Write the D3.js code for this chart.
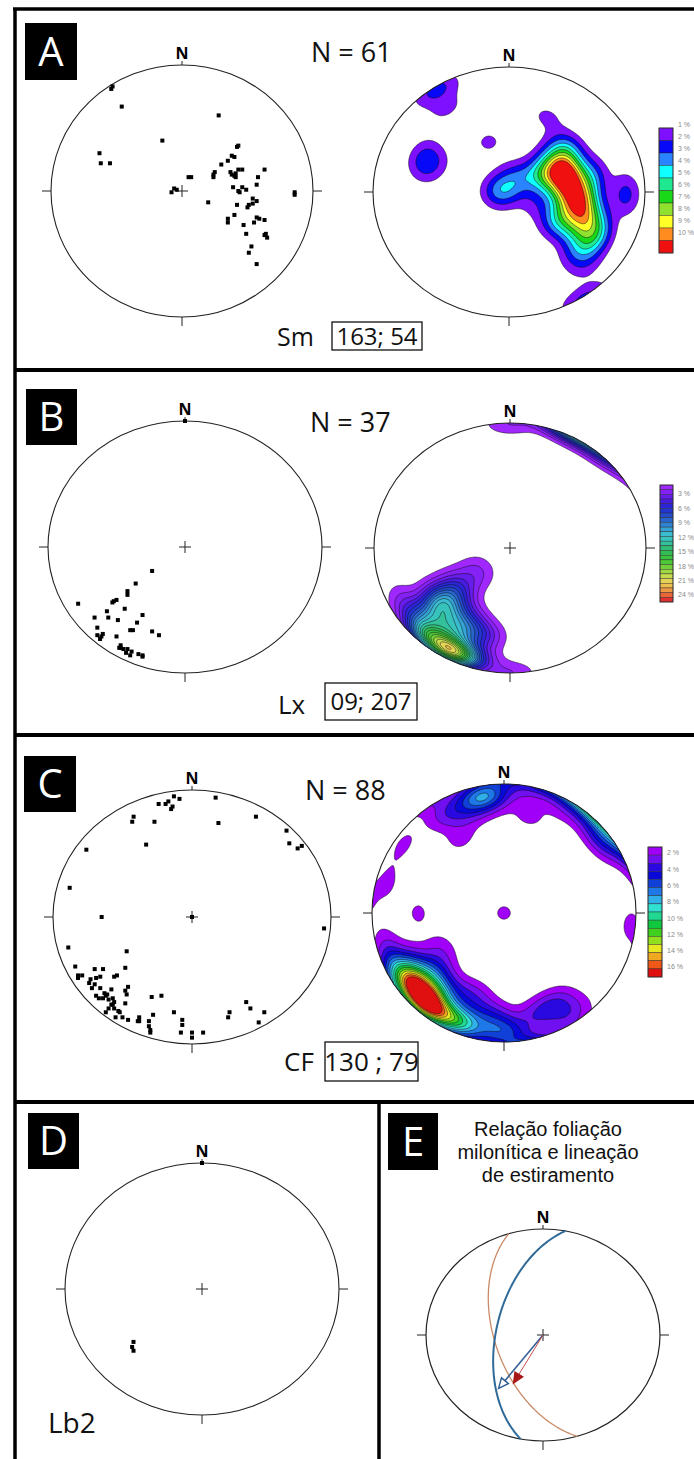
<!DOCTYPE html>
<html><head><meta charset="utf-8">
<script src="https://cdn.jsdelivr.net/npm/d3@7"></script>
<style>body{margin:0;background:#fff}svg{display:block}</style>
</head><body>
<svg id="fig" width="694" height="1459"></svg>
<script>
// ================= DATA =================
// Pole / line positions read off each equal-area net, in net units
// (percent of primitive radius: [east, north]).
const polesA = [[-54,81],[-53,83],[-46,67],[28,60],[-15,40],[-63,30],[-62,22],[-55,22],[42,35],[43,36],
  [40,27],[35,24],[30,21],[25,15],[24,11],[37,15],[41,14],[41,11],[46,17],[63,17],[58,11],[57,5],[39,3],
  [43,0],[46,3],[49,1],[44,-1],[5,11],[7,11],[-6,2],[-8,-1],[20,-9],[86,-1],[86,-3],[54,-6],[57,-8],
  [54,-10],[50,-13],[42,-11],[51,-11],[40,-19],[35,-22],[35,-25],[57,-21],[63,-23],[55,-25],[47,-27],
  [49,-34],[63,-35],[65,-37],[64,-34],[53,-44],[51,-49],[57,-58],[38,13],[43,17],[59,-22],[38,28],[-4,1],
  [24,13],[40,12]];
const linesB = [[0,100],[-24,-19],[-36,-29],[-42,-35],[-42,-38],[-50,-42],[-53,-44],[-78,-45],[-44,-49],
  [-57,-51],[-56,-56],[-66,-56],[-31,-54],[-49,-58],[-35,-60],[-64,-64],[-40,-66],[-38,-66],[-24,-67],
  [-19,-70],[-64,-70],[-61,-71],[-50,-71],[-62,-73],[-47,-78],[-45,-81],[-42,-81],[-40,-86],[-39,-83],
  [-34,-85],[-31,-87],[-47,-80],[-43,-84],[-60,-69],[-52,-43],[-31,-86],[-48,-80]];
const polesC = [[-13,95],[-9,93],[-24,89],[-19,89],[-14,87],[-15,85],[17,94],[-42,79],[-43,75],[-27,75],
  [19,74],[46,79],[-76,53],[-33,57],[68,68],[70,58],[76,54],[79,56],[-88,23],[-65,0],[95,-9],[0,0],
  [-89,-24],[-47,-27],[-84,-39],[-70,-41],[-64,-41],[-48,-40],[-82,-48],[-79,-46],[-74,-52],[-72,-56],
  [-66,-47],[-66,-56],[-56,-47],[-54,-46],[-58,-57],[-46,-55],[-47,-61],[-67,-64],[-62,-62],[-61,-61],
  [-57,-64],[-56,-67],[-58,-69],[-56,-72],[-62,-75],[-52,-75],[-55,-79],[-46,-81],[-48,-68],[-29,-63],
  [-22,-62],[-39,-82],[-38,-79],[-31,-82],[-28,-77],[-31,-86],[-30,-91],[-13,-75],[-7,-81],[-7,-85],
  [-8,-91],[0,-91],[0,-95],[8,-91],[27,-75],[26,-79],[39,-67],[42,-72],[52,-75],[48,-83],[-70,-53],
  [-64,-64],[-60,-65],[-57,-69],[-60,-72],[-73,-49],[-69,-48],[-63,-60],[-53,-74],[-50,-79],[-38,-82],
  [-30,-89],[-48,-58],[-82,-46],[-17,91],[-69,-62]];
const linesD = [[0,100],[-50,-42],[-51,-46],[-50,-49]];

const countA = 61, countB = 37, countC = 88;
const levelsA = d3.range(1, 11);          // 1 % ... 10 %
const levelsB = d3.range(1, 26);          // 1 % ... 25 %
const levelsC = d3.range(1, 17);          // 1 % ... 16 %
const legendLabelsA = d3.range(1, 11);
const legendLabelsB = [3, 6, 9, 12, 15, 18, 21, 24];
const legendLabelsC = [2, 4, 6, 8, 10, 12, 14, 16];
const meanA = "163; 54", meanB = "09; 207", meanC = "130 ; 79";

// Panel E: planes as [dip direction, dip], lines as [trend, plunge]
const planeBlue = [281, 57];
const planeOrange = [253, 56];
const lineBlue = [217, 37];
const lineRed = [209, 47];

// ================= HELPERS =================
const svg = d3.select('#fig');
const FONT = "'Open Sans','Noto Sans',sans-serif";
const rad = Math.PI / 180, SQ2 = Math.SQRT2;

function makeNet(cx, cy, rx, ry) {
  return {cx, cy, rx, ry,
    x: d3.scaleLinear().domain([-1, 1]).range([cx - rx, cx + rx]),
    y: d3.scaleLinear().domain([-1, 1]).range([cy + ry, cy - ry])};
}
function toNet(trend, plunge) {
  const r = SQ2 * Math.sin((90 - plunge) * rad / 2);
  return [r * Math.sin(trend * rad), r * Math.cos(trend * rad)];
}
function netToVec(e, n) {
  let r = Math.hypot(e, n);
  if (r > 1) { e /= r; n /= r; r = 1; }
  const th = 2 * Math.asin(Math.min(1, r / SQ2));
  const s = r > 1e-9 ? Math.sin(th) / r : SQ2;
  return [e * s, n * s, Math.cos(th)];
}
function vecToNet(v) {
  const D = Math.max(-1, Math.min(1, v[2]));
  const r = SQ2 * Math.sin(Math.acos(D) / 2);
  const h = Math.hypot(v[0], v[1]) || 1;
  return [r * v[0] / h, r * v[1] / h];
}
function line(g, x1, y1, x2, y2, stroke, w) {
  g.append('line').attr('x1', x1).attr('y1', y1).attr('x2', x2).attr('y2', y2)
    .attr('stroke', stroke || '#222').attr('stroke-width', w || 1);
}
function netDecor(g, n, withCross) {
  line(g, n.cx - n.rx - 9, n.cy, n.cx - n.rx, n.cy);
  line(g, n.cx + n.rx, n.cy, n.cx + n.rx + 9, n.cy);
  line(g, n.cx, n.cy + n.ry, n.cx, n.cy + n.ry + 9);
  line(g, n.cx, n.cy - n.ry - 4, n.cx, n.cy - n.ry);
  if (withCross) {
    line(g, n.cx - 6, n.cy, n.cx + 6, n.cy);
    line(g, n.cx, n.cy - 6, n.cx, n.cy + 6);
  }
  g.append('text').attr('x', n.cx).attr('y', n.cy - n.ry - 6).attr('text-anchor', 'middle')
    .attr('font-family', FONT).attr('font-weight', 700).attr('font-size', 16).text('N');
}
function netCircle(g, n, w) {
  g.append('ellipse').attr('cx', n.cx).attr('cy', n.cy).attr('rx', n.rx).attr('ry', n.ry)
    .attr('fill', 'none').attr('stroke', '#222').attr('stroke-width', w || 1.1);
}
function drawPoints(g, n, pts) {
  g.selectAll(null).data(pts).join('rect')
    .attr('x', d => n.x(d[0] / 100) - 2).attr('y', d => n.y(d[1] / 100) - 2)
    .attr('width', 4).attr('height', 4).attr('fill', '#000');
}
let clipId = 0;
// Gaussian (Fisher-type) smoothed density with axial symmetry; gain = contouring scale of each plot
function drawDensity(g, n, pts, count, levels, colors, gain) {
  const step = 1 / 90, ext = 1.04;
  const nx = Math.ceil(2 * ext / step) + 1, ny = nx;
  const vecs = pts.map(p => netToVec(p[0] / 100, p[1] / 100));
  const K = 55;
  const values = new Float64Array(nx * ny);
  for (let j = 0; j < ny; j++) {
    const nn = ext - j * step;
    for (let i = 0; i < nx; i++) {
      const e = -ext + i * step;
      const v = netToVec(e, nn);
      let s = 0;
      for (const p of vecs) {
        const d = Math.min(1, Math.abs(v[0] * p[0] + v[1] * p[1] + v[2] * p[2]));
        s += Math.exp(K * (d - 1));
      }
      values[j * nx + i] = 100 * gain * s / count;
    }
  }
  const contours = d3.contours().size([nx, ny]).thresholds(levels)(values);
  const tr = d3.geoTransform({point(px, py) {
    this.stream.point(n.x(-ext + (px - 0.5) * step), n.y(ext - (py - 0.5) * step));
  }});
  const path = d3.geoPath(tr);
  const id = 'clip' + (clipId++);
  svg.append('defs').append('clipPath').attr('id', id).append('ellipse')
    .attr('cx', n.cx).attr('cy', n.cy).attr('rx', n.rx).attr('ry', n.ry);
  g.append('g').attr('clip-path', `url(#${id})`).selectAll('path').data(contours).join('path')
    .attr('d', path).attr('fill', (d, i) => colors[i]).attr('stroke', '#111').attr('stroke-width', 0.5);
}
function drawLegend(x0, y0, w, h, colors, labels, labelY) {
  const g = svg.append('g');
  const yb = d3.scaleBand().domain(d3.range(colors.length)).range([y0, y0 + h]);
  g.selectAll('rect').data(colors).join('rect')
    .attr('x', x0).attr('y', (d, i) => yb(i)).attr('width', w).attr('height', yb.bandwidth())
    .attr('fill', d => d).attr('stroke', '#222').attr('stroke-width', 0.4);
  g.append('rect').attr('x', x0).attr('y', y0).attr('width', w).attr('height', h)
    .attr('fill', 'none').attr('stroke', '#333').attr('stroke-width', 0.8);
  g.selectAll('text').data(labels).join('text')
    .attr('x', x0 + w + 5).attr('y', d => labelY(d)).attr('dy', '0.35em')
    .attr('font-family', "'Liberation Sans',Arial,sans-serif").attr('font-size', 7)
    .attr('fill', '#888').text(d => d + ' %');
}
function panelLabel(x, y, w, h, letter) {
  svg.append('rect').attr('x', x).attr('y', y).attr('width', w).attr('height', h).attr('fill', '#000');
  svg.append('text').attr('x', x + w / 2).attr('y', y + h / 2 + 14).attr('text-anchor', 'middle')
    .attr('font-family', FONT).attr('font-size', 40).attr('fill', '#fff').text(letter);
}
function text(x, y, s, size, anchor, family) {
  return svg.append('text').attr('x', x).attr('y', y).attr('text-anchor', anchor || 'start')
    .attr('font-family', family || FONT).attr('font-size', size).attr('fill', '#111').text(s);
}
function boxedValue(x, y, w, h, s, size) {
  svg.append('rect').attr('x', x).attr('y', y).attr('width', w).attr('height', h)
    .attr('fill', 'none').attr('stroke', '#111').attr('stroke-width', 1.3);
  text(x + w / 2, y + h / 2 + size * 0.36, s, size, 'middle');
}

// ================= COLOURS =================
const colorsA = ["#7f10ff","#0808f8","#2a84ff","#10ffff","#20e890","#18d818","#90e030","#ffff28","#ff8c1e","#f01010"];
const interpB = d3.interpolateRgbBasis(["#a028ff","#6a18e8","#2020d8","#2048c8","#3080d0","#40c8dc",
  "#30c0a0","#30b848","#40c830","#a0d840","#f0e060","#f0a040","#e03030"]);
const colorsB = levelsB.map((d, i) => interpB(i / (levelsB.length - 1)));
const colorsC = ["#a000f8","#7010f0","#2a08e0","#0808d8","#1040d8","#1f78e8","#30b0e8","#30e0d0",
  "#20d890","#10c840","#40d020","#90e020","#e8e820","#f0a820","#f05818","#e01010"];

// ================= FRAME =================
const fr = svg.append('g');
line(fr, 13, 9, 700, 9, '#000', 3.5);
line(fr, 15, 8, 15, 1459, '#000', 3.5);
line(fr, 15, 370, 700, 370, '#000', 4);
line(fr, 15, 735, 700, 735, '#000', 4);
line(fr, 15, 1102, 700, 1102, '#000', 4);
line(fr, 379, 1102, 379, 1459, '#000', 3.5);

// ================= PANEL A =================
panelLabel(25, 23, 52, 57, 'A');
text(311, 62, 'N = 61', 27);
{
  const nL = makeNet(182, 191, 131, 126), g = svg.append('g');
  netDecor(g, nL, true); netCircle(g, nL); drawPoints(g, nL, polesA);
  const nR = makeNet(509, 192, 136, 125), g2 = svg.append('g');
  netDecor(g2, nR, true); drawDensity(g2, nR, polesA, countA, levelsA, colorsA, 0.7); netCircle(g2, nR);
}
drawLegend(659, 128, 14, 125, colorsA, legendLabelsA, d3.scaleLinear().domain([1, 10]).range([125, 233]));
text(277, 346, 'Sm', 25);
boxedValue(332, 322, 90, 28, meanA, 24);

// ================= PANEL B =================
panelLabel(26, 389, 51, 56, 'B');
text(310, 432, 'N = 37', 27);
{
  const nL = makeNet(185, 547, 137, 126), g = svg.append('g');
  netDecor(g, nL, true); netCircle(g, nL); drawPoints(g, nL, linesB);
  const nR = makeNet(510, 548, 136, 125), g2 = svg.append('g');
  netDecor(g2, nR, true); drawDensity(g2, nR, linesB, countB, levelsB, colorsB, 0.72); netCircle(g2, nR);
}
drawLegend(660, 485, 13, 117, colorsB, legendLabelsB, d3.scaleLinear().domain([3, 24]).range([494, 595]));
text(278, 714, 'Lx', 26);
boxedValue(325, 683, 92, 37, meanB, 24);

// ================= PANEL C =================
panelLabel(24, 756, 52, 56, 'C');
text(305, 800, 'N = 88', 27);
{
  const nL = makeNet(192, 917, 139, 127), g = svg.append('g');
  netDecor(g, nL, true); netCircle(g, nL); drawPoints(g, nL, polesC);
  const nR = makeNet(504, 913, 132, 129), g2 = svg.append('g');
  netDecor(g2, nR, true); drawDensity(g2, nR, polesC, countC, levelsC, colorsC, 1.0); netCircle(g2, nR);
}
drawLegend(648, 847, 14, 130, colorsC, legendLabelsC, d3.scaleLinear().domain([2, 16]).range([853, 967]));
text(284, 1071, 'CF', 26);
boxedValue(325, 1042, 93, 39, meanC, 26);

// ================= PANEL D =================
panelLabel(28, 1113, 51, 56, 'D');
{
  const n = makeNet(202, 1289, 137, 126), g = svg.append('g');
  netDecor(g, n, true); netCircle(g, n); drawPoints(g, n, linesD);
}
text(48, 1433, 'Lb2', 28);

// ================= PANEL E =================
panelLabel(388, 1113, 50, 57, 'E');
const TITLE_FONT = "'Liberation Sans',Arial,sans-serif";
text(548, 1136, 'Relação foliação', 20, 'middle', TITLE_FONT);
text(548, 1159, 'milonítica e lineação', 20, 'middle', TITLE_FONT);
text(548, 1182, 'de estiramento', 20, 'middle', TITLE_FONT);
{
  const n = makeNet(543, 1335, 117, 106), g = svg.append('g');
  netCircle(g, n, 1.2);
  netDecor(g, n, true);
  function greatCircle(plane) {
    const dd = plane[0] * rad, dp = plane[1] * rad, st = (plane[0] - 90) * rad;
    const s = [Math.sin(st), Math.cos(st), 0];
    const d = [Math.sin(dd) * Math.cos(dp), Math.cos(dd) * Math.cos(dp), Math.sin(dp)];
    return d3.range(0, 180.5, 1).map(t => {
      const a = t * rad;
      return vecToNet([0, 1, 2].map(k => Math.cos(a) * s[k] + Math.sin(a) * d[k]));
    });
  }
  const lg = d3.line().x(d => n.x(d[0])).y(d => n.y(d[1]));
  g.append('path').attr('d', lg(greatCircle(planeOrange))).attr('fill', 'none')
    .attr('stroke', '#c98a66').attr('stroke-width', 1.3);
  g.append('path').attr('d', lg(greatCircle(planeBlue))).attr('fill', 'none')
    .attr('stroke', '#2f6a98').attr('stroke-width', 2);
  function arrow(ln, stroke, w, headFill, headStroke) {
    const t = toNet(ln[0], ln[1]);
    const px = n.x(t[0]), py = n.y(t[1]), cx = n.x(0), cy = n.y(0);
    const L = Math.hypot(px - cx, py - cy), ux = (px - cx) / L, uy = (py - cy) / L;
    line(g, cx, cy, px - ux * 6, py - uy * 6, stroke, w);
    const bx = px - ux * 10, by = py - uy * 10;
    const pts = [[px, py], [bx - uy * 4.5, by + ux * 4.5], [bx + uy * 4.5, by - ux * 4.5]];
    g.append('polygon').attr('points', pts.map(p => p.join(',')).join(' '))
      .attr('fill', headFill).attr('stroke', headStroke).attr('stroke-width', 1.4);
  }
  arrow(lineBlue, '#35609a', 1.6, '#fff', '#2c5a92');
  arrow(lineRed, '#c85050', 1, '#a81818', '#a81818');
}
</script>
</body></html>
